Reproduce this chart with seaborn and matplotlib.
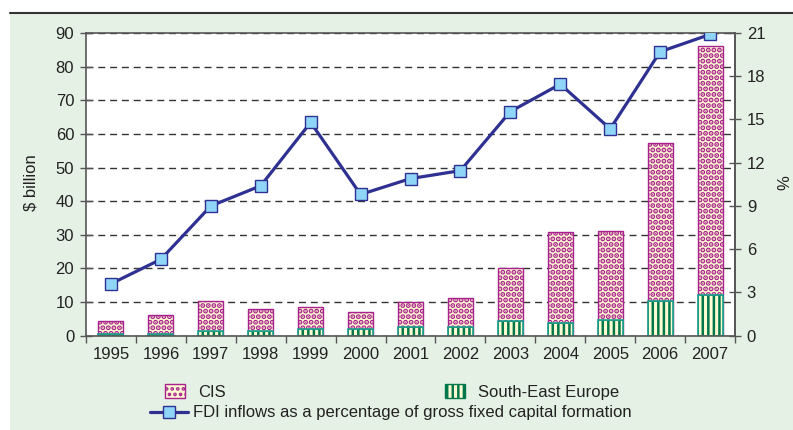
import numpy as np
import pandas as pd
import matplotlib
matplotlib.use('Agg')
import matplotlib.pyplot as plt
from matplotlib.patches import Rectangle, Patch
from matplotlib.lines import Line2D
import seaborn as sns

# values
years = ['1995', '1996', '1997', '1998', '1999', '2000', '2001',
         '2002', '2003', '2004', '2005', '2006', '2007']
cis = [3.7, 5.6, 8.7, 6.4, 6.3, 4.8, 7.4, 8.7, 15.9, 26.8, 26.5, 47.0, 73.8]
see = [0.6, 0.6, 1.5, 1.5, 2.1, 2.1, 2.5, 2.5, 4.3, 3.9, 4.7, 10.4, 12.2]
fdi_pct = [3.6, 5.3, 9.0, 10.4, 14.8, 9.8, 10.9, 11.45, 15.55, 17.45, 14.35, 19.7, 20.9]

left_ticks = [0, 10, 20, 30, 40, 50, 60, 70, 80, 90]
right_ticks = [0, 3, 6, 9, 12, 15, 18, 21]

BG = '#e6f1e5'
NAVY = '#2e3192'
MARKER = '#8fd5f7'
CIS_DOT = '#a8218e'
SEE_STRIPE = '#00774a'
SEE_EDGE = '#1aa08e'
PALE = '#fffbd2'
TXT = '#222222'
AX = '#555555'
FS = 12

sns.set_style('white')
plt.rcParams['font.family'] = ['Liberation Sans', 'DejaVu Sans']
plt.rcParams['hatch.linewidth'] = 1.8

df = pd.DataFrame({'year': years, 'cis': cis, 'see': see, 'fdi': fdi_pct})
df['total'] = df['cis'] + df['see']

fig = plt.figure(figsize=(7.93, 4.30), dpi=100)
fig.patch.set_facecolor('white')
fig.patches.append(Rectangle((10 / 793, 0), 1, 1 - 13 / 430, transform=fig.transFigure,
                             facecolor=BG, edgecolor='none', zorder=-5))
fig.lines.append(Line2D([10 / 793, 1], [1 - 13 / 430] * 2, transform=fig.transFigure,
                        color='#333333', lw=1.5))

ax = fig.add_axes([86 / 793, 1 - 335.7 / 430, 649 / 793, 302.7 / 430])
ax.set_facecolor('white')

# CIS drawn as the full stack height, South-East Europe over its lower part
with plt.rc_context({'hatch.linewidth': 2.6}):
    sns.barplot(data=df, x='year', y='total', ax=ax, color=PALE, saturation=1, width=0.5,
                edgecolor=CIS_DOT, linewidth=1.0, hatch='...')
    h_cis = Patch(facecolor=PALE, edgecolor=CIS_DOT, hatch='...', linewidth=1.0)
sns.barplot(data=df, x='year', y='see', ax=ax, color=PALE, saturation=1, width=0.5,
            edgecolor=SEE_STRIPE, linewidth=0.5, hatch='|||')
sns.barplot(data=df, x='year', y='see', ax=ax, color='none', saturation=1, width=0.5,
            edgecolor=SEE_EDGE, linewidth=1.2, fill=False)

ax.set_ylim(0, 90)
ax.set_yticks(left_ticks)
ax.set_xlim(-0.5, len(years) - 0.5)
ax.set_xlabel('')
ax.set_ylabel('')
ax.set_axisbelow(True)
ax.yaxis.grid(True, color='#333333', linestyle=(0, (5, 3.5)), linewidth=1.0)
ax.xaxis.grid(False)

ax.set_xticks(np.arange(-0.5, len(years), 1), minor=True)
ax.tick_params(axis='x', which='major', length=0, pad=8, labelsize=FS, labelcolor=TXT)
ax.tick_params(axis='x', which='minor', length=5, width=1, direction='out', color=AX, bottom=True)
ax.tick_params(axis='y', which='major', length=9, width=1, direction='inout', color=AX,
               pad=4, labelsize=FS, labelcolor=TXT, left=True)
for side in ['left', 'bottom', 'right', 'top']:
    ax.spines[side].set_color(AX)
    ax.spines[side].set_linewidth(1.2)
ax.spines['top'].set_linestyle((0, (1, 1)))

ax2 = ax.twinx()
sns.pointplot(data=df, x='year', y='fdi', ax=ax2, color=NAVY, markers='s', markersize=8,
              linewidth=2.3, errorbar=None, markerfacecolor=MARKER, markeredgecolor=NAVY,
              markeredgewidth=1.0)
ax2.set_ylim(0, 21)
ax2.set_yticks(right_ticks)
ax2.set_xlim(-0.5, len(years) - 0.5)
ax2.set_xlabel('')
ax2.set_ylabel('')
ax2.tick_params(axis='y', which='major', length=9, width=1, direction='inout', color=AX,
                pad=4, labelsize=FS, labelcolor=TXT, right=True)
for side in ['left', 'bottom', 'right', 'top']:
    ax2.spines[side].set_visible(False)
ax2.spines['right'].set_visible(True)
ax2.spines['right'].set_color(AX)
ax2.spines['right'].set_linewidth(1.2)
ax2.grid(False)

fig.text(31 / 793, 1 - 183 / 430, '\\$ billion', rotation=90, ha='center', va='center',
         fontsize=FS, color=TXT)
fig.text(785 / 793, 1 - 183 / 430, '%', rotation=90, ha='center', va='center',
         fontsize=FS, color=TXT)

# legend entries
h_see = Patch(facecolor=PALE, edgecolor=SEE_STRIPE, hatch='|||', linewidth=1.0)
h_fdi = Line2D([], [], color=NAVY, lw=2.3, marker='s', markersize=8,
               markerfacecolor=MARKER, markeredgecolor=NAVY)
common = dict(frameon=False, borderpad=0, borderaxespad=0, fontsize=FS,
              labelcolor=TXT, loc='center left')
fig.legend([h_cis], ['CIS'], bbox_to_anchor=(165 / 793, 1 - 392 / 430),
           handlelength=1.2, handleheight=0.9, handletextpad=0.8, **common)
fig.legend([h_see], ['South-East Europe'], bbox_to_anchor=(445 / 793, 1 - 392 / 430),
           handlelength=1.2, handleheight=0.9, handletextpad=0.8, **common)
fig.legend([h_fdi], ['FDI inflows as a percentage of gross fixed capital formation'],
           bbox_to_anchor=(150 / 793, 1 - 413 / 430),
           handlelength=2.3, handletextpad=0.3, **common)

fig.savefig('out.png', dpi=100, facecolor=fig.get_facecolor())
